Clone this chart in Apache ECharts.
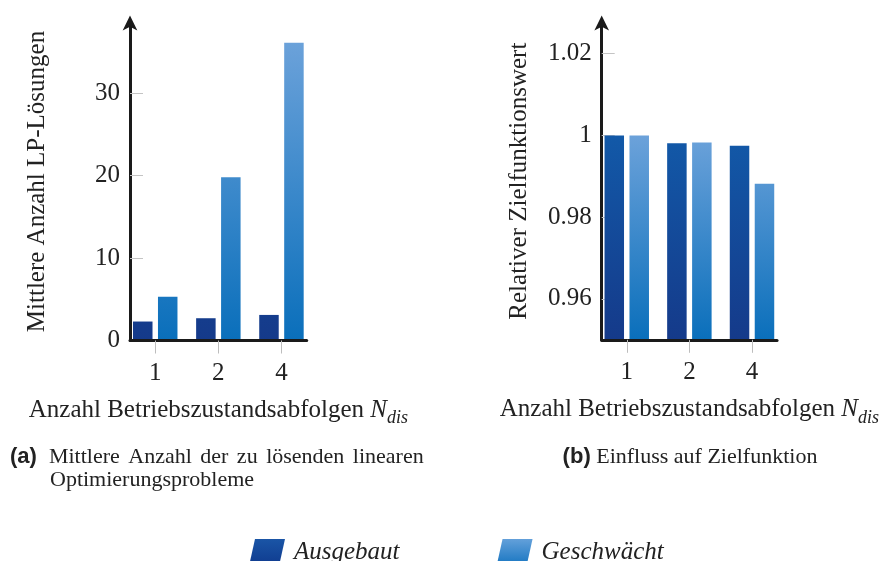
<!DOCTYPE html>
<html><head><meta charset="utf-8">
<script src="https://cdn.jsdelivr.net/npm/echarts@6/dist/echarts.min.js"></script>
<style>html,body{margin:0;padding:0;background:#fff}#c{width:882px;height:561px}</style>
</head><body><div id="c"></div>
<script>
const categories = ['1', '2', '4'];
const seriesNames = ['Ausgebaut', 'Geschwächt'];
const lpAusgebaut = [2.3, 2.7, 3.1];
const lpGeschwaecht = [5.3, 19.8, 36.1];
const zfAusgebaut = [1.0, 0.9981, 0.9975];
const zfGeschwaecht = [1.0, 0.9983, 0.9882];
const lpTicks = [0, 10, 20, 30];
const zfTicks = [0.96, 0.98, 1, 1.02];
const catPos = categories.map((c, i) => i + 1);

const SERIF = "'Liberation Serif', 'Times New Roman', serif";
const SANS = "'Liberation Sans Narrow', 'Liberation Sans', sans-serif";
const AX = '#1a1a1a';
const TXT = '#222';

function grad(y1, y2, c1, c2) {
  return {type: 'linear', x: 0, y: y1, x2: 0, y2: y2, global: true,
    colorStops: [{offset: 0, color: c1}, {offset: 1, color: c2}]};
}
function localGrad(c1, c2) {
  return {type: 'linear', x: 0, y: 0, x2: 0, y2: 1,
    colorStops: [{offset: 0, color: c1}, {offset: 1, color: c2}]};
}
const A1 = '#1259a8', A2 = '#153a8a';
const G1 = '#6ca2da', G2 = '#0a6fbb';

const xName = '{t|Anzahl Betriebszustandsabfolgen }{n|N}{s|dis}';
const xNameStyle = {
  rich: {
    t: {fontFamily: SERIF, fontSize: 25, color: TXT, lineHeight: 34, verticalAlign: 'middle'},
    n: {fontFamily: SERIF, fontSize: 25, fontStyle: 'italic', color: TXT, lineHeight: 34, verticalAlign: 'middle'},
    s: {fontFamily: SERIF, fontSize: 18, fontStyle: 'italic', color: TXT, lineHeight: 34, verticalAlign: 'bottom'}
  }
};

function xAxis(gi) {
  return {
    gridIndex: gi, type: 'value', min: 0.6, max: 3.4, z: 10,
    axisLine: {show: true, onZero: false, lineStyle: {color: AX, width: 3}},
    axisTick: {show: true, customValues: catPos, length: 13, lineStyle: {color: '#bdbdbd', width: 1}},
    axisLabel: {customValues: catPos, formatter: v => categories[Math.round(v) - 1],
      margin: 20, fontSize: 25, fontFamily: SERIF, color: TXT},
    splitLine: {show: false},
    name: xName, nameLocation: 'middle', nameGap: 53, nameTextStyle: xNameStyle
  };
}
function yAxis(gi, min, max, ticks, name, gap) {
  return {
    gridIndex: gi, type: 'value', min: min, max: max,
    axisLine: {show: true, symbol: ['none', 'arrow'], symbolSize: [11, 15], symbolOffset: [0, 7],
      lineStyle: {color: AX, width: 3}},
    axisTick: {show: true, inside: true, length: 13, customValues: ticks, lineStyle: {color: '#c4c4c4', width: 1}},
    axisLabel: {customValues: ticks, margin: 10, fontSize: 25, fontFamily: SERIF, color: TXT},
    splitLine: {show: false},
    name: name, nameLocation: 'middle', nameGap: gap,
    nameTextStyle: {fontFamily: SERIF, fontSize: 25, color: TXT}
  };
}
function bar(name, gi, vals, color) {
  return {
    type: 'bar', name: name, xAxisIndex: gi, yAxisIndex: gi,
    data: vals.map((v, i) => [catPos[i], v]),
    barWidth: 19.5, barGap: '28%', itemStyle: {color: color}
  };
}

const capRich = {
  b: {fontFamily: SANS, fontWeight: 'bold', fontSize: 22, fill: TXT},
  g0: {width: 12, fontSize: 22},
  g: {width: 8.5, fontSize: 22}
};

const chart = echarts.init(document.getElementById('c'), null, {renderer: 'canvas'});
chart.setOption({
  animation: false,
  backgroundColor: '#fff',
  grid: [
    {left: 130, top: 22.5, width: 176.7, height: 318},
    {left: 601.7, top: 22.5, width: 176.6, height: 317.3}
  ],
  xAxis: [xAxis(0), xAxis(1)],
  yAxis: [
    yAxis(0, 0, 38.55, lpTicks, 'Mittlere Anzahl LP-Lösungen', 80),
    yAxis(1, 0.95, 1.02764, zfTicks, 'Relativer Zielfunktionswert', 70)
  ],
  legend: {
    left: 244, top: 534, itemWidth: 36, itemHeight: 27, itemGap: 97,
    icon: 'path://M6,0L36,0L30,27L0,27Z',
    textStyle: {fontFamily: SERIF, fontStyle: 'italic', fontSize: 25, color: TXT, padding: [0, 0, 0, 4]},
    data: [
      {name: seriesNames[0], itemStyle: {color: localGrad('#1a55a6', '#0f3a8e')}},
      {name: seriesNames[1], itemStyle: {color: localGrad('#63a0da', '#1574c0')}}
    ]
  },
  graphic: [
    {type: 'text', x: 10, y: 457, style: {
      text: '{b|(a)}{g0| }Mittlere{g| }Anzahl{g| }der{g| }zu{g| }lösenden{g| }linearen',
      align: 'left', verticalAlign: 'middle',
      fontFamily: SERIF, fontSize: 22, fill: TXT, rich: capRich}},
    {type: 'text', x: 50, y: 480, style: {
      text: 'Optimierungsprobleme', align: 'left', verticalAlign: 'middle',
      fontFamily: SERIF, fontSize: 22, fill: TXT}},
    {type: 'text', x: 690, y: 457, style: {
      text: '{b|(b)} Einfluss auf Zielfunktion', align: 'center', verticalAlign: 'middle',
      fontFamily: SERIF, fontSize: 22, fill: TXT, rich: capRich}}
  ],
  series: [
    bar(seriesNames[0], 0, lpAusgebaut, grad(40, 340, A1, A2)),
    bar(seriesNames[1], 0, lpGeschwaecht, grad(40, 340, G1, G2)),
    bar(seriesNames[0], 1, zfAusgebaut, grad(135, 340, A1, A2)),
    bar(seriesNames[1], 1, zfGeschwaecht, grad(135, 340, G1, G2))
  ]
});
</script></body></html>
